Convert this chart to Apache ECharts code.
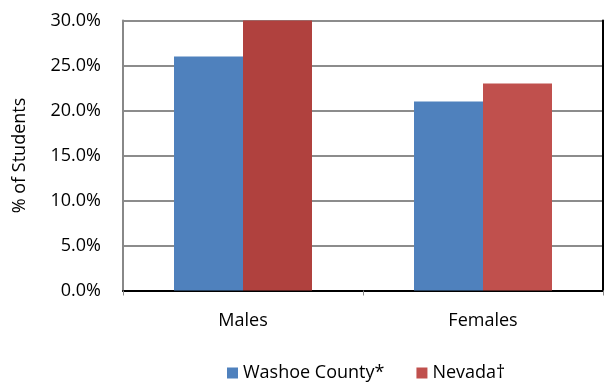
<!DOCTYPE html>
<html>
<head>
<meta charset="utf-8">
<script src="https://cdn.jsdelivr.net/npm/echarts@6/dist/echarts.min.js"></script>
<style>
  html, body { margin: 0; padding: 0; background: #fff; }
  #chart { width: 605px; height: 382px; }
</style>
</head>
<body>
<div id="chart"></div>
<script>
// Share of students by sex, county vs. state
const categories = ['Males', 'Females'];
const washoeValues = [26.0, 21.0];
const nevadaValues = [30.0, 23.0];
const yTicks = [0, 5, 10, 15, 20, 25, 30];

const FONT = '"Open Sans"';
const FS = 18;
const chart = echarts.init(document.getElementById('chart'));

chart.setOption({
  animation: false,
  textStyle: { fontFamily: FONT },
  legend: {
    top: 359,
    left: 222,
    itemWidth: 11,
    itemHeight: 11,
    itemGap: 32,
    icon: 'rect',
    textStyle: { fontSize: FS, color: '#000', fontFamily: FONT },
    data: ['Washoe County*', 'Nevada†']
  },
  grid: { left: 123, right: 2, top: 20.5, bottom: 91.5, containLabel: false },
  xAxis: [
    {
      type: 'category',
      data: categories,
      axisLine: { lineStyle: { color: '#888', width: 2 } },
      axisTick: { show: true, length: 5, lineStyle: { color: '#888', width: 1 } },
      axisLabel: { fontSize: FS, color: '#000', margin: 21, fontFamily: FONT }
    },
    {
      type: 'category',
      position: 'top',
      data: categories,
      axisLine: { lineStyle: { color: '#000', width: 2 } },
      axisTick: { show: false },
      axisLabel: { show: false }
    }
  ],
  yAxis: [
    {
      type: 'value',
      min: yTicks[0],
      max: yTicks[yTicks.length - 1],
      interval: 5,
      name: '% of Students',
      nameLocation: 'middle',
      nameGap: 94,
      nameTextStyle: { fontSize: FS, color: '#000', fontFamily: FONT },
      axisLine: { show: true, lineStyle: { color: '#888', width: 2 } },
      axisTick: { show: false },
      axisLabel: {
        fontSize: FS, color: '#000', margin: 22, fontFamily: FONT,
        formatter: v => v.toFixed(1) + '%'
      },
      splitLine: { lineStyle: { color: '#8c8c8c', width: 2 } }
    },
    {
      type: 'value',
      position: 'right',
      min: yTicks[0],
      max: yTicks[yTicks.length - 1],
      interval: 5,
      axisLine: { show: true, lineStyle: { color: '#000', width: 2 } },
      axisTick: { show: false },
      axisLabel: { show: false },
      splitLine: { show: false }
    }
  ],
  series: [
    {
      name: 'Washoe County*',
      type: 'bar',
      data: washoeValues,
      barGap: '0%',
      barCategoryGap: '42.5%',
      itemStyle: { color: '#4f81bd' }
    },
    {
      name: 'Nevada†',
      type: 'bar',
      data: nevadaValues.map((v, i) => ({
        value: v,
        itemStyle: { color: i === 0 ? '#b0413e' : '#c0504d' }
      })),
      barGap: '0%',
      barCategoryGap: '42.5%',
      itemStyle: { color: '#c0504d' }
    }
  ]
});
</script>
</body>
</html>
